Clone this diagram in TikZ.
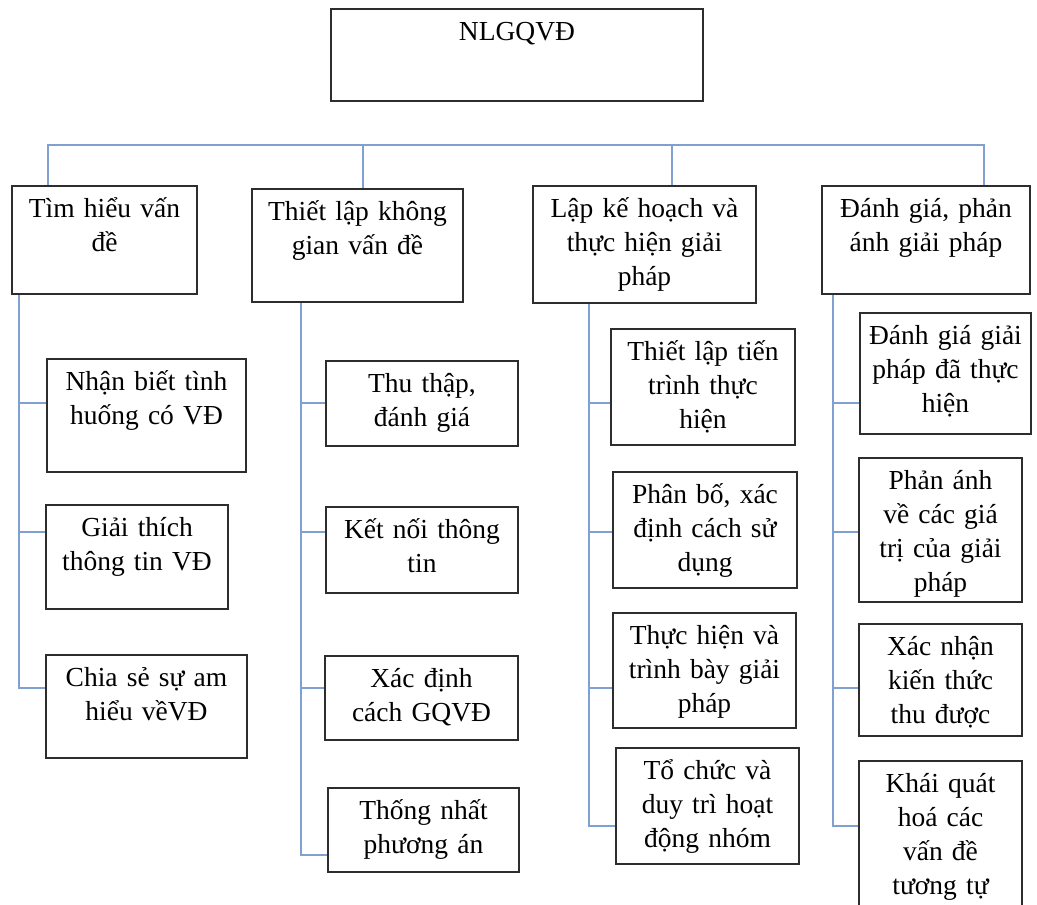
\documentclass[tikz,border=0pt]{standalone}
\usepackage{xcolor}
\usepackage{fontspec}
\setmainfont{Liberation Serif}
\usepackage{tikz}
\usetikzlibrary{positioning}
\definecolor{boxline}{RGB}{45,45,45}
\definecolor{linkblue}{RGB}{128,160,210}

\begin{document}
\begin{tikzpicture}[x=1bp, y=-1bp, font=\fontsize{27.5bp}{34bp}\selectfont,
	box/.style={draw=boxline, line width=1.8bp, anchor=north, align=center, inner xsep=3bp, inner ysep=0bp, text height=32bp},
	link/.style={draw=linkblue, line width=2.2bp}]

	\useasboundingbox (0,0) rectangle (1037,905);
	\clip (0,0) rectangle (1037,905);

	% The top box
	\node [box, text width=366bp, text depth=60bp] at (517,8) (top) {NLGQVĐ};

	% The four groups
	\node [box, text width=179bp, text depth=76bp] at (104.5,185) (b1) {Tìm hiểu vấn\\đề};
	\node [box, text width=205bp, text depth=81bp] at (357.5,188) (b2) {Thiết lập không\\gian vấn đề};
	\node [box, text width=217bp, text depth=85bp] at (644.5,185) (b3) {Lập kế hoạch và\\thực hiện giải\\pháp};
	\node [box, text width=202bp, text depth=76bp] at (926,185) (b4) {Đánh giá, phản\\ánh giải pháp};

	% Column 1
	\node [box, text width=193bp, text depth=81bp] at (146.5,358) (c1a) {Nhận biết tình\\huống có VĐ};
	\node [box, text width=176bp, text depth=72bp] at (137,504) (c1b) {Giải thích\\thông tin VĐ};
	\node [box, text width=195bp, text depth=71bp] at (146.5,654) (c1c) {Chia sẻ sự am\\hiểu vềVĐ};

	% Column 2
	\node [box, text width=186bp, text depth=53bp] at (422,360) (c2a) {Thu thập,\\đánh giá};
	\node [box, text width=186bp, text depth=54bp] at (422,506) (c2b) {Kết nối thông\\tin};
	\node [box, text width=187bp, text depth=52bp] at (421.5,655) (c2c) {Xác định\\cách GQVĐ};
	\node [box, text width=185bp, text depth=52bp] at (423.5,787) (c2d) {Thống nhất\\phương án};

	% Column 3
	\node [box, text width=178bp, text depth=84bp] at (703,328) (c3a) {Thiết lập tiến\\trình thực\\hiện};
	\node [box, text width=178bp, text depth=84bp] at (705,471) (c3b) {Phân bố, xác\\định cách sử\\dụng};
	\node [box, text width=177bp, text depth=83bp] at (704.5,612) (c3c) {Thực hiện và\\trình bày giải\\pháp};
	\node [box, text width=177bp, text depth=84bp] at (707.5,747) (c3d) {Tổ chức và\\duy trì hoạt\\động nhóm};

	% Column 4
	\node [box, text width=165bp, text depth=89bp] at (945.5,312) (c4a) {Đánh giá giải\\pháp đã thực\\hiện};
	\node [box, text width=157bp, text depth=112bp] at (940.5,457) (c4b) {Phản ánh\\về các giá\\trị của giải\\pháp};
	\node [box, text width=157bp, text depth=80bp] at (940.5,623) (c4c) {Xác nhận\\kiến thức\\thu được};
	\node [box, text width=157bp, text depth=138bp] at (940.5,760) (c4d) {Khái quát\\hoá các\\vấn đề\\tương tự};

	% Bus and spines
	\coordinate (t1) at (48,145);
	\coordinate (t2) at (363,145);
	\coordinate (t3) at (672,145);
	\coordinate (t4) at (984,145);
	\coordinate (s1) at (19,0);
	\coordinate (s2) at (301,0);
	\coordinate (s3) at (589,0);
	\coordinate (s4) at (833,0);
	\coordinate (r1) at (0,403);
	\coordinate (r2) at (0,532);
	\coordinate (r3) at (0,688);
	\coordinate (r4) at (0,826);
	\coordinate (r5) at (0,855);

	% Graph edges
	\draw [link] (b1.north -| t1) |- (t4) -- (b4.north -| t4);
	\draw [link] (t2) -- (b2.north -| t2);
	\draw [link] (t3) -- (b3.north -| t3);

	\draw [link] (b1.south -| s1) |- (c1c.west |- r3);
	\draw [link] (s1 |- r1) -- (c1a.west |- r1);
	\draw [link] (s1 |- r2) -- (c1b.west |- r2);

	\draw [link] (b2.south -| s2) |- (c2d.west |- r5);
	\draw [link] (s2 |- r1) -- (c2a.west |- r1);
	\draw [link] (s2 |- r2) -- (c2b.west |- r2);
	\draw [link] (s2 |- r3) -- (c2c.west |- r3);

	\draw [link] (b3.south -| s3) |- (c3d.west |- r4);
	\draw [link] (s3 |- r1) -- (c3a.west |- r1);
	\draw [link] (s3 |- r2) -- (c3b.west |- r2);
	\draw [link] (s3 |- r3) -- (c3c.west |- r3);

	\draw [link] (b4.south -| s4) |- (c4d.west |- r4);
	\draw [link] (s4 |- r1) -- (c4a.west |- r1);
	\draw [link] (s4 |- r2) -- (c4b.west |- r2);
	\draw [link] (s4 |- r3) -- (c4c.west |- r3);

\end{tikzpicture}
\end{document}
